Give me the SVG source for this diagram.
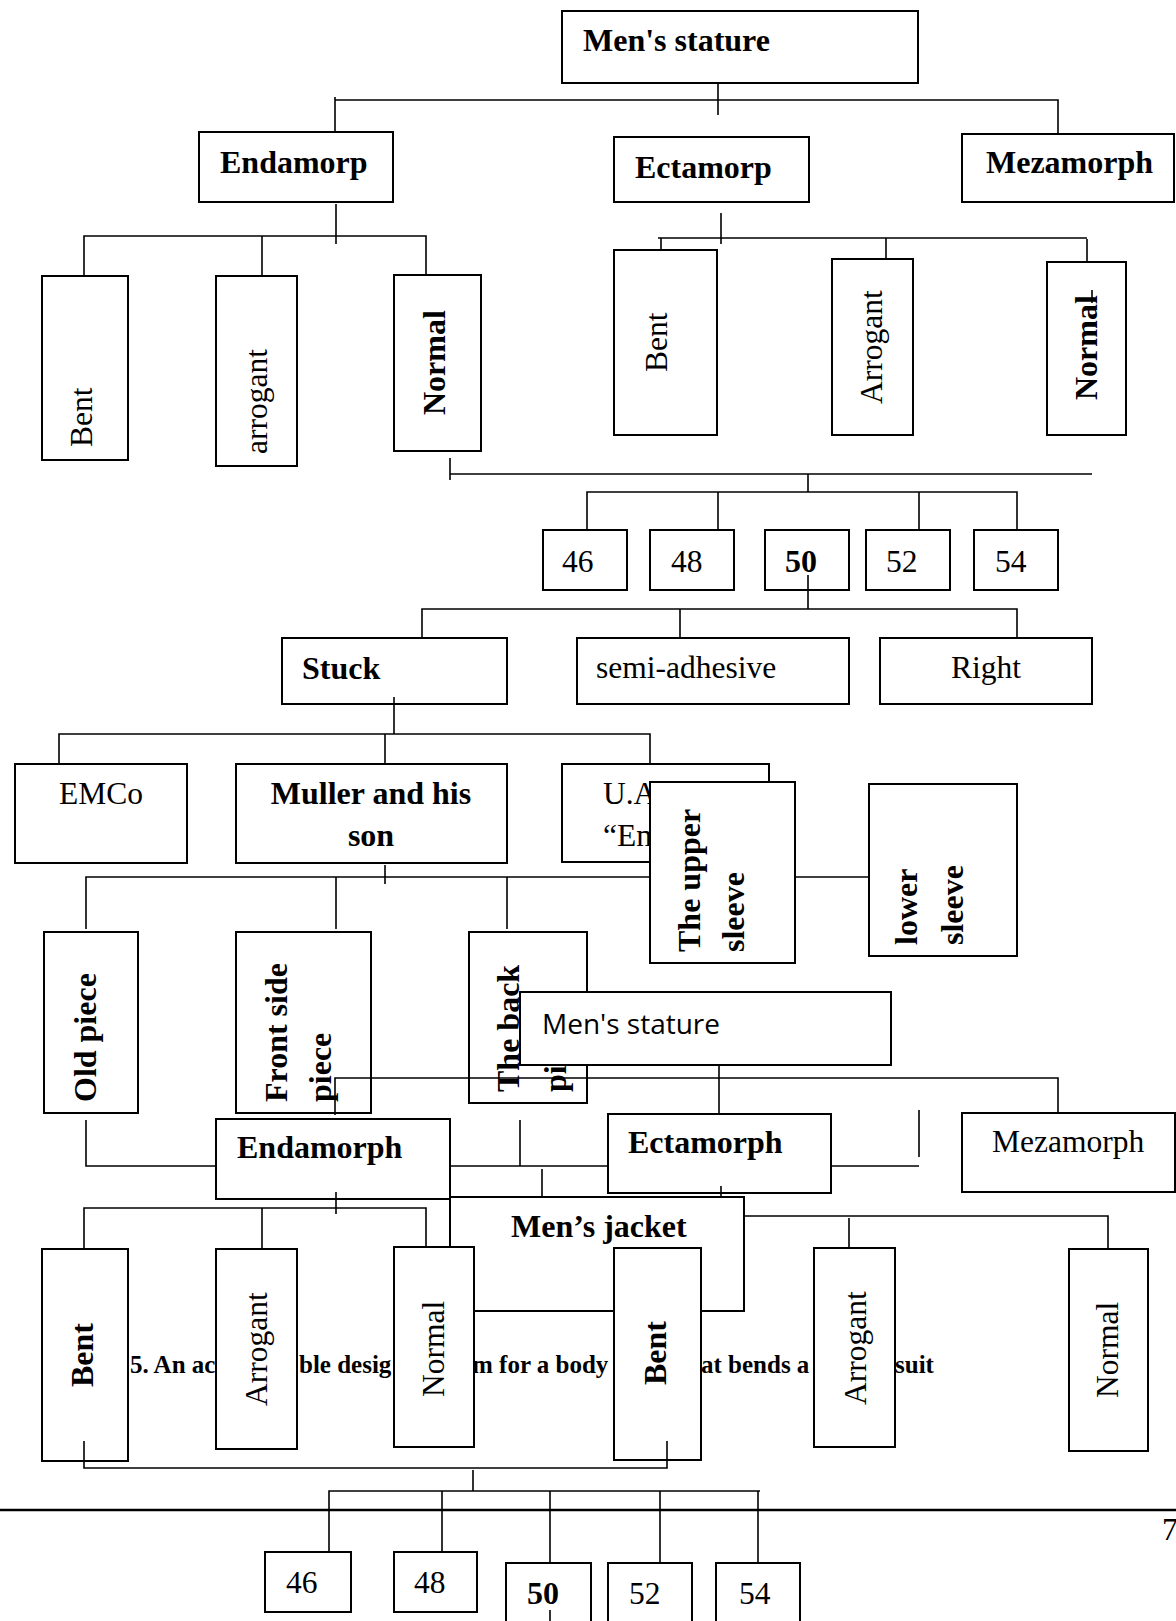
<svg xmlns="http://www.w3.org/2000/svg" width="1176" height="1621" viewBox="0 0 1176 1621">
<style>
.box{fill:#fff;stroke:#000;stroke-width:2}
.b{font-family:"Liberation Serif","Times New Roman",serif;font-weight:bold;font-size:32px;fill:#000}
.r{font-family:"Liberation Serif","Times New Roman",serif;font-size:31.5px;fill:#000}
.s{font-family:"Open Sans","Liberation Sans",sans-serif;font-size:28px;fill:#000}
.cap{font-family:"Liberation Serif","Times New Roman",serif;font-weight:bold;font-size:25px;fill:#000}
.c{fill:none;stroke:#000;stroke-width:1.6}
</style>
<rect width="1176" height="1621" fill="#fff"/>
<g id="caption">
<text class="cap" x="130" y="1373">5. An ac</text>
<text class="cap" x="299" y="1373">ble desig</text>
<text class="cap" x="472" y="1373">m for a body</text>
<text class="cap" x="701" y="1373">at bends a</text>
<text class="cap" x="895" y="1373">suit</text>
</g>
<g id="nodes">
<g id="stature1"><rect class="box" x="562" y="11" width="356" height="72"/><text class="b" x="583" y="51">Men's stature</text></g>
<g id="endamorp"><rect class="box" x="199" y="132" width="194" height="70"/><text class="b" x="220" y="173">Endamorp</text></g>
<g id="ectamorp"><rect class="box" x="614" y="137" width="195" height="65"/><text class="b" x="635" y="178">Ectamorp</text></g>
<g id="mezamorph1"><rect class="box" x="962" y="134" width="212" height="68"/><text class="b" x="986" y="173">Mezamorph</text></g>
<g id="bent1"><rect class="box" x="42" y="276" width="86" height="184"/><text class="r" transform="translate(92,447) rotate(-90)">Bent</text></g>
<g id="arrogant1"><rect class="box" x="216" y="276" width="81" height="190"/><text class="r" transform="translate(267,454) rotate(-90)">arrogant</text></g>
<g id="normal1"><rect class="box" x="394" y="275" width="87" height="176"/><text class="b" transform="translate(445,415) rotate(-90)">Normal</text></g>
<g id="bent2"><rect class="box" x="614" y="250" width="103" height="185"/><text class="r" transform="translate(667,372) rotate(-90)">Bent</text></g>
<g id="arrogant2"><rect class="box" x="832" y="259" width="81" height="176"/><text class="r" transform="translate(882,404) rotate(-90)">Arrogant</text></g>
<g id="normal2"><rect class="box" x="1047" y="262" width="79" height="173"/><text class="b" transform="translate(1097,400) rotate(-90)">Normal</text></g>
<g id="s46a"><rect class="box" x="543" y="530" width="84" height="60"/><text class="r" x="562" y="572">46</text></g>
<g id="s48a"><rect class="box" x="650" y="530" width="84" height="60"/><text class="r" x="671" y="572">48</text></g>
<g id="s50a"><rect class="box" x="765" y="530" width="84" height="60"/><text class="b" x="785" y="572">50</text></g>
<g id="s52a"><rect class="box" x="866" y="530" width="84" height="60"/><text class="r" x="886" y="572">52</text></g>
<g id="s54a"><rect class="box" x="974" y="530" width="84" height="60"/><text class="r" x="995" y="572">54</text></g>
<g id="stuck"><rect class="box" x="282" y="638" width="225" height="66"/><text class="b" x="302" y="679">Stuck</text></g>
<g id="semi"><rect class="box" x="577" y="638" width="272" height="66"/><text class="r" x="596" y="678">semi-adhesive</text></g>
<g id="right"><rect class="box" x="880" y="638" width="212" height="66"/><text class="r" x="951" y="678">Right</text></g>
<g id="emco"><rect class="box" x="15" y="764" width="172" height="99"/><text class="r" x="59" y="804">EMCo</text></g>
<g id="muller"><rect class="box" x="236" y="764" width="271" height="99"/><text class="b" x="371" y="804" text-anchor="middle">Muller and his</text><text class="b" x="371" y="846" text-anchor="middle">son</text></g>
<g id="uae"><rect class="box" x="562" y="764" width="207" height="98"/><text class="r" x="603" y="804">U.A</text><text class="r" x="603" y="846">“En</text></g>
<g id="upper"><rect class="box" x="650" y="782" width="145" height="181"/><text class="b" transform="translate(700,952) rotate(-90)">The upper</text><text class="b" transform="translate(744,952) rotate(-90)">sleeve</text></g>
<g id="lower"><rect class="box" x="869" y="784" width="148" height="172"/><text class="b" transform="translate(917,945) rotate(-90)">lower</text><text class="b" transform="translate(963,945) rotate(-90)">sleeve</text></g>
<g id="oldpiece"><rect class="box" x="44" y="932" width="94" height="181"/><text class="b" transform="translate(96,1102) rotate(-90)">Old piece</text></g>
<g id="frontside"><rect class="box" x="236" y="932" width="135" height="181"/><text class="b" transform="translate(287,1102) rotate(-90)">Front side</text><text class="b" transform="translate(331,1102) rotate(-90)">piece</text></g>
<g id="backpiece"><rect class="box" x="469" y="932" width="118" height="171"/><text class="b" transform="translate(519,1092) rotate(-90)">The back</text><text class="b" transform="translate(566,1092) rotate(-90)">pi</text></g>
<g id="stature2"><rect class="box" x="520" y="992" width="371" height="73"/><text class="s" x="542" y="1034">Men's stature</text></g>
<g id="endamorph2"><rect class="box" x="216" y="1119" width="234" height="80"/><text class="b" x="237" y="1158">Endamorph</text></g>
<g id="ectamorph2"><rect class="box" x="608" y="1114" width="223" height="79"/><text class="b" x="628" y="1153">Ectamorph</text></g>
<g id="mezamorph2"><rect class="box" x="962" y="1113" width="213" height="79"/><text class="r" x="992" y="1152">Mezamorph</text></g>
<g id="jacket"><rect class="box" x="450" y="1197" width="294" height="114"/><text class="b" x="511" y="1237">Men’s jacket</text></g>
<g id="bent3"><rect class="box" x="42" y="1249" width="86" height="212"/><text class="b" transform="translate(93,1387) rotate(-90)">Bent</text></g>
<g id="arrogant3"><rect class="box" x="216" y="1249" width="81" height="200"/><text class="r" transform="translate(267,1406) rotate(-90)">Arrogant</text></g>
<g id="normal3"><rect class="box" x="394" y="1247" width="80" height="200"/><text class="r" transform="translate(444,1397) rotate(-90)">Normal</text></g>
<g id="bent4"><rect class="box" x="614" y="1248" width="87" height="212"/><text class="b" transform="translate(666,1385) rotate(-90)">Bent</text></g>
<g id="arrogant4"><rect class="box" x="814" y="1248" width="81" height="199"/><text class="r" transform="translate(866,1405) rotate(-90)">Arrogant</text></g>
<g id="normal4"><rect class="box" x="1069" y="1249" width="79" height="202"/><text class="r" transform="translate(1118,1398) rotate(-90)">Normal</text></g>
<g id="s46b"><rect class="box" x="265" y="1552" width="86" height="60"/><text class="r" x="286" y="1593">46</text></g>
<g id="s48b"><rect class="box" x="394" y="1552" width="83" height="60"/><text class="r" x="414" y="1593">48</text></g>
<g id="s50b"><rect class="box" x="506" y="1563" width="85" height="80"/><text class="b" x="527" y="1604">50</text></g>
<g id="s52b"><rect class="box" x="608" y="1563" width="84" height="80"/><text class="r" x="629" y="1604">52</text></g>
<g id="s54b"><rect class="box" x="716" y="1563" width="84" height="80"/><text class="r" x="739" y="1604">54</text></g>
</g>
<g id="connectors" class="c">
<path class="c" d="M335,97 V132 M335,100 H1058 V134 M718,83 V115"/>
<path class="c" d="M336,204 V244 M84,276 V236 H426 V275 M262,236 V276"/>
<path class="c" d="M721,213 V244 M658,238 H1087 M661,238 V250 M886,238 V259 M1087,239 V262 M1092,290 V303"/>
<path class="c" d="M450,458 V480 M450,474 H1092 M808,474 V492 M587,530 V492 H1017 V530 M718,492 V530 M919,492 V530"/>
<path class="c" d="M808,575 V609 M422,638 V609 H1017 V638 M680,609 V638"/>
<path class="c" d="M394,697 V734 M59,764 V734 H650 V764 M385,734 V764"/>
<path class="c" d="M385,865 V884 M86,929 V877 H650 M795,877 H869 M336,877 V929 M507,877 V929"/>
<path class="c" d="M719,1065 V1114 M335,1115 V1078 H1058 V1113 M919,1110 V1157"/>
<path class="c" d="M86,1120 V1166 H216 M450,1166 H608 M831,1166 H919 M520,1120 V1166 M542,1169 V1197"/>
<path class="c" d="M336,1192 V1214 M84,1249 V1208 H426 V1248 M262,1208 V1249"/>
<path class="c" d="M721,1186 V1197 M744,1216 H1108 V1249 M849,1218 V1248"/>
<path class="c" d="M84,1441 V1468 H667 V1441 M473,1470 V1491 M329,1552 V1491 H760 M758,1491 V1563 M442,1491 V1552 M550,1491 V1563 M660,1491 V1563 M550,1610 V1621"/>
</g>
<g id="page">
<path d="M0,1510 H1176" stroke="#000" stroke-width="2.5"/>
<text class="r" x="1162" y="1540">7</text>
</g>
</svg>
